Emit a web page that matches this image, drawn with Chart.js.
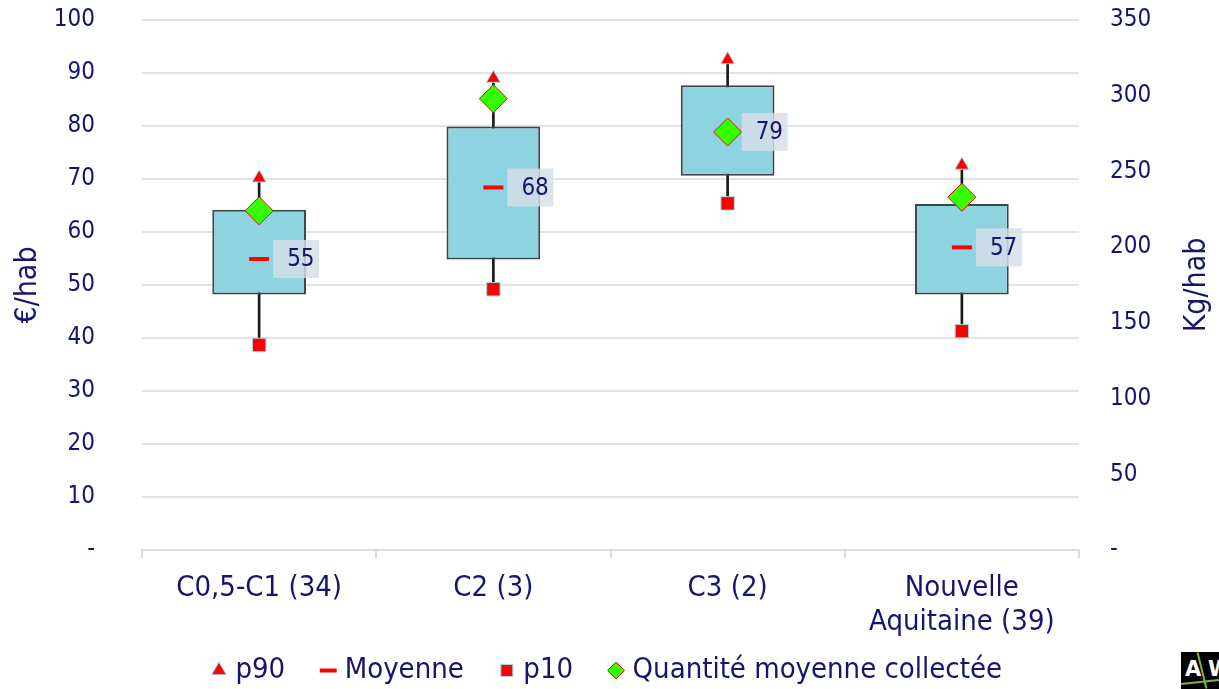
<!DOCTYPE html>
<html>
<head>
<meta charset="utf-8">
<script src="https://cdn.jsdelivr.net/npm/chart.js@4.4.1/dist/chart.umd.min.js"></script>
<style>
html,body{margin:0;padding:0;background:#fff;}
#wrap{position:relative;width:1219px;height:689px;overflow:hidden;}
#logo{position:absolute;left:1181px;top:652px;width:38px;height:37px;background:#000;overflow:hidden;color:#fff;font:bold 21px 'DejaVu Sans',sans-serif;}
#logo span{position:absolute;top:5px;}
#logo .v{position:absolute;left:20px;top:0;width:2px;height:37px;background:#7cb342;transform:rotate(-14deg);}
#logo .h{position:absolute;left:0;top:29px;width:38px;height:2px;background:#7cb342;transform:rotate(-6deg);}
</style>
</head>
<body>
<div id="wrap">
<canvas id="c" width="1219" height="689"></canvas>
<div id="logo"><span style="left:4px">A</span><div class="v"></div><span style="left:27px">W</span><div class="h"></div></div>
</div>
<script>
// ---- data ----
const categories = ['C0,5-C1 (34)', 'C2 (3)', 'C3 (2)', ['Nouvelle', 'Aquitaine (39)']];
const p10 = [38.7, 49.2, 65.4, 41.3];
const q1 = [48.2, 54.8, 70.6, 48.2];
const q3 = [64.2, 79.9, 87.7, 65.3];
const p90 = [70.2, 89.0, 92.5, 72.6];
const moyenne = [54.9, 68.4, 78.9, 57.1];
const quantite = [224, 298, 276, 233];   // kg/hab (right axis)
const seriesNames = ['p90', 'Moyenne', 'p10', 'Quantité moyenne collectée'];
const leftTitle = '€/hab';
const rightTitle = 'Kg/hab';

// ---- style ----
const FAMILY = "'DejaVu Sans Condensed', 'DejaVu Sans', sans-serif";
const NAVY = '#15156e';
const GRID = '#dde5e8';

const zeroDash = v => (v === 0 ? '-' : v);

const meanLabels = {
  id: 'meanLabels',
  afterDatasetsDraw(chart) {
    const ctx = chart.ctx;
    const meta = chart.getDatasetMeta(3);
    ctx.save();
    meta.data.forEach((pt, i) => {
      const x = pt.x, y = pt.y;
      ctx.fillStyle = 'rgba(214,222,232,0.82)';
      ctx.fillRect(x + 14, y - 19, 46, 38);
      ctx.fillStyle = NAVY;
      ctx.font = '24px ' + FAMILY;
      ctx.textAlign = 'left';
      ctx.textBaseline = 'middle';
      ctx.fillText(String(Math.round(moyenne[i])), x + 28, y + 1);
    });
    ctx.restore();
  }
};

const rightAxisTitle = {
  id: 'rightAxisTitle',
  afterDraw(chart) {
    const ctx = chart.ctx;
    const s = chart.scales.y2;
    ctx.save();
    ctx.translate(s.right - 22, (chart.chartArea.top + chart.chartArea.bottom) / 2);
    ctx.rotate(-Math.PI / 2);
    ctx.fillStyle = NAVY;
    ctx.font = '30px ' + FAMILY;
    ctx.textAlign = 'center';
    ctx.textBaseline = 'middle';
    ctx.fillText(rightTitle, 0, 0);
    ctx.restore();
  }
};

const fitVertical = w => s => { s.width = w; s.paddingTop = 12; s.paddingBottom = 12; };

new Chart(document.getElementById('c'), {
  data: {
    labels: categories,
    datasets: [
      {
        type: 'bar', label: 'whisker',
        data: p10.map((v, i) => [v, p90[i]]),
        backgroundColor: '#1a1a1a', barThickness: 2, grouped: false, order: 10, yAxisID: 'y'
      },
      {
        type: 'bar', label: 'box',
        data: q1.map((v, i) => [v, q3[i]]),
        backgroundColor: '#8ed4e0', borderColor: '#3a4848', borderWidth: 2, borderSkipped: false,
        barPercentage: 0.4, categoryPercentage: 1, grouped: false, order: 9, yAxisID: 'y'
      },
      {
        type: 'line', label: seriesNames[0], data: p90, showLine: false, yAxisID: 'y',
        pointStyle: 'triangle', pointRadius: 8, pointBackgroundColor: '#ff0000',
        pointBorderColor: '#9fdbe6', pointBorderWidth: 1, backgroundColor: '#ff0000', borderColor: '#9fdbe6', order: 3
      },
      {
        type: 'line', label: seriesNames[1], data: moyenne, showLine: false, yAxisID: 'y',
        pointStyle: 'line', pointRadius: 10, pointBorderColor: '#ff0000', pointBorderWidth: 4,
        backgroundColor: '#ff0000', borderColor: '#ff0000', order: 5
      },
      {
        type: 'line', label: seriesNames[2], data: p10, showLine: false, yAxisID: 'y',
        pointStyle: 'rect', pointRadius: 9.5, pointBackgroundColor: '#ff0000',
        pointBorderColor: '#9fdbe6', pointBorderWidth: 1, backgroundColor: '#ff0000', borderColor: '#9fdbe6', order: 4
      },
      {
        type: 'line', label: seriesNames[3], data: quantite, showLine: false, yAxisID: 'y2',
        pointStyle: 'rectRot', pointRadius: 14, pointBackgroundColor: '#33ff00',
        pointBorderColor: '#ff0000', pointBorderWidth: 1, backgroundColor: '#33ff00', borderColor: '#ff0000', order: 1
      }
    ]
  },
  options: {
    responsive: false,
    animation: false,
    events: [],
    devicePixelRatio: 1,
    layout: { padding: { top: 20, bottom: -6, left: 0, right: 0 } },
    plugins: {
      tooltip: { enabled: false },
      legend: {
        position: 'bottom',
        labels: {
          usePointStyle: true, boxHeight: 12, boxWidth: 4, color: NAVY,
          font: { family: FAMILY, size: 29 }, padding: 41,
          filter: item => item.datasetIndex >= 2,
          sort: (a, b) => a.datasetIndex - b.datasetIndex
        }
      }
    },
    scales: {
      x: {
        offset: true,
        grid: { offset: true, drawOnChartArea: false, drawTicks: true, tickLength: 8, color: '#d6dfe2', lineWidth: 2 },
        border: { display: true, color: '#d6dfe2', width: 2 },
        ticks: { color: NAVY, font: { family: FAMILY, size: 29, lineHeight: 1.15 }, padding: 14, maxRotation: 0, autoSkip: false },
        afterFit: s => { s.height = 65; s._computeLabelArea = () => undefined; }
      },
      y: {
        position: 'left', min: 0, max: 100,
        ticks: { stepSize: 10, callback: zeroDash, color: NAVY, font: { family: FAMILY, size: 24 }, padding: 47 },
        grid: { color: GRID, lineWidth: 2, drawTicks: false },
        border: { display: false },
        title: { display: true, text: leftTitle, color: NAVY, font: { family: FAMILY, size: 30 }, padding: { top: 10, bottom: 0 } },
        afterFit: fitVertical(142)
      },
      y2: {
        position: 'right', min: 0, max: 350,
        ticks: { stepSize: 50, callback: zeroDash, color: NAVY, font: { family: FAMILY, size: 24 }, padding: 31 },
        grid: { drawOnChartArea: false, drawTicks: false },
        border: { display: false },
        afterFit: fitVertical(140)
      }
    }
  },
  plugins: [meanLabels, rightAxisTitle]
});
</script>
</body>
</html>
